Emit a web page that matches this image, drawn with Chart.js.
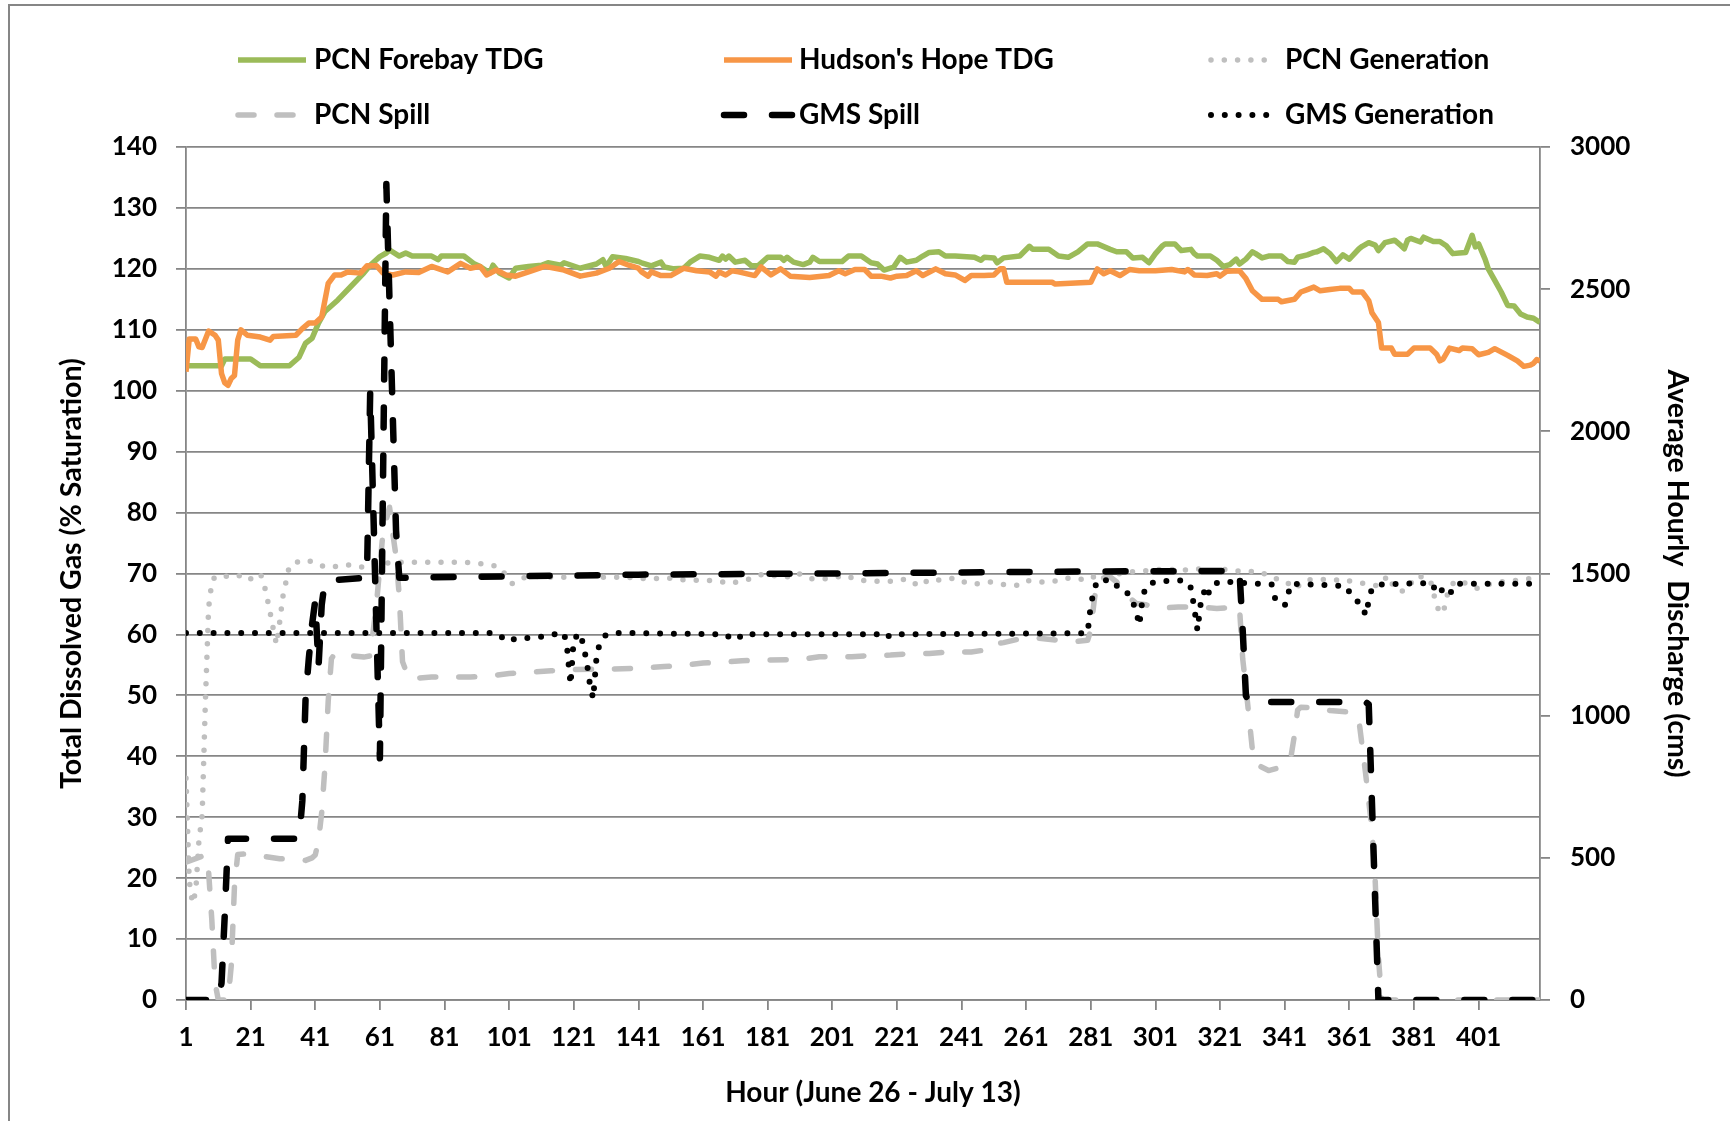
<!DOCTYPE html>
<html>
<head>
<meta charset="utf-8">
<title>TDG and discharge, June 26 - July 13</title>
<script src="https://cdn.jsdelivr.net/npm/chart.js@4.4.1/dist/chart.umd.min.js"></script>
<style>
  html, body { margin: 0; padding: 0; background: #fff; }
  #wrap { position: relative; width: 1730px; height: 1121px; }
</style>
</head>
<body>
<div id="wrap"><canvas id="graph"></canvas></div>
<script>
// x axis labels (hour of record)
const hourTicks = [1, 21, 41, 61, 81, 101, 121, 141, 161, 181, 201, 221, 241, 261, 281, 301, 321, 341, 361, 381, 401];
const xTitle = 'Hour (June 26 - July 13)';

// PCN Forebay TDG (% saturation) at the hours where the line turns
const forebayHours = [1,12,13,21,24,33,36,38,40,42,44,48,52,56,58,61,63,64,67,69,71,77,79,80,87,90,92,95,96,98,101,103,107,111,113,117,118,123,128,130,131,133,137,141,142,145,148,149,152,155,157,160,163,166,167,168,169,171,174,176,178,181,185,186,187,189,192,194,195,197,204,206,210,213,215,217,220,222,224,227,229,231,234,236,239,245,247,248,251,252,254,259,262,263,268,271,274,277,280,283,287,289,292,294,297,299,301,303,304,307,309,312,313,314,318,320,322,324,326,327,329,331,332,334,336,340,342,344,345,348,350,351,353,355,357,359,361,364,365,367,369,370,372,375,377,378,379,380,383,384,387,389,391,393,395,397,399,400,401,403,404,406,408,410,412,414,416,418,420];
const forebayTdg = [104.1,104.1,105.2,105.2,104.1,104.1,105.5,107.8,108.6,111.1,113.0,114.9,117.1,119.3,120.6,122.0,122.6,123.1,122.1,122.6,122.1,122.1,121.5,122.1,122.1,120.9,120.4,119.3,120.6,119.3,118.5,120.1,120.4,120.6,121.0,120.6,121.0,120.1,120.8,121.5,120.4,122.0,121.7,121.2,121.0,120.5,121.1,120.3,120.0,120.1,121.1,122.1,121.9,121.4,122.1,121.6,122.1,121.1,121.4,120.5,120.5,121.9,121.9,121.4,121.9,121.1,120.7,121.1,121.9,121.2,121.2,122.1,122.1,121.0,120.8,119.8,120.3,121.9,121.1,121.4,122.1,122.7,122.8,122.1,122.1,121.9,121.4,121.9,121.8,121.0,121.8,122.1,123.7,123.2,123.2,122.1,121.9,122.8,124.1,124.1,123.2,122.8,122.8,121.8,121.9,121.0,122.5,123.7,124.1,124.1,123.0,123.2,122.5,122.1,122.1,121.4,120.4,120.7,121.6,120.8,121.6,122.8,122.5,121.8,122.1,122.1,121.2,121.1,121.9,122.3,122.7,122.8,123.3,122.5,121.2,122.3,121.6,123.3,123.7,124.3,123.9,123.0,124.3,124.7,123.8,123.3,124.7,125.0,124.4,125.2,124.5,124.5,123.8,122.5,122.6,122.7,125.5,123.6,124.1,121.6,120.0,118.1,116.2,114.0,113.9,112.6,112.1,111.9,111.2];

// Hudson's Hope TDG (% saturation)
const hudsonHours = [1,2,4,5,6,8,10,11,12,13,14,15,16,17,18,20,24,27,28,35,37,39,41,43,45,47,49,51,55,57,60,62,65,69,73,77,82,86,89,92,94,97,100,103,107,112,118,123,128,132,135,138,141,142,144,145,148,151,155,157,159,163,165,166,168,170,172,177,179,182,185,188,194,200,203,205,208,211,213,216,219,221,224,227,229,233,236,239,242,244,248,251,253,254,255,269,270,281,283,285,287,290,293,296,301,306,310,311,313,317,320,321,323,327,329,331,334,339,340,344,346,348,350,352,355,358,361,362,365,367,368,370,371,374,375,379,381,386,388,389,390,392,395,396,399,401,404,406,410,413,415,417,418,419,420];
const hudsonTdg = [103.1,108.5,108.5,107.2,107.1,109.8,109.1,108.3,102.8,101.3,100.9,102.0,102.5,108.3,110.0,109.1,108.8,108.3,108.9,109.1,110.2,111.1,111.1,112.1,117.6,119.0,119.0,119.5,119.3,120.5,120.5,119.3,119.0,119.5,119.4,120.4,119.5,120.9,120.1,120.4,119.0,119.8,119.0,118.8,119.5,120.4,119.8,118.8,119.3,120.1,121.2,120.6,120.1,119.5,118.8,119.5,118.9,118.9,120.1,119.9,119.7,119.5,118.8,119.5,119.0,119.7,119.5,118.9,120.3,119.0,120.0,118.8,118.6,118.9,119.7,119.2,119.9,119.9,118.8,118.8,118.5,118.8,118.9,119.7,118.9,120.0,119.2,119.0,118.1,118.9,118.9,119.0,120.0,120.0,117.8,117.8,117.5,117.8,120.0,119.2,119.7,118.9,119.9,119.7,119.7,119.9,119.5,119.9,119.0,118.9,119.2,118.8,119.6,119.7,118.4,116.4,115.0,115.0,114.6,115.0,116.2,116.6,117.0,116.4,116.6,116.8,116.8,116.2,116.2,114.8,112.8,111.2,107.0,107.0,106.0,106.0,107.0,107.0,106.0,104.9,105.2,107.0,106.6,107.0,106.9,105.9,106.3,106.9,105.8,104.9,104.0,104.2,104.5,105.1,104.9];

// PCN Generation (cms)
const pcnGenHours = [1,2,3,4,5,6,7,8,9,10,14,17,20,24,25,26,27,28,29,30,31,33,37,41,44,47,51,55,60,68,80,90,95,98,102,106,110,114,118,122,126,130,134,138,141,146,150,156,162,166,169,176,179,187,190,194,197,201,205,209,214,218,221,224,228,231,235,239,243,246,250,254,258,261,265,269,272,276,280,283,288,293,296,300,304,309,314,318,322,327,330,334,337,341,344,348,352,356,359,363,367,370,373,375,378,382,386,387,388,390,391,392,394,397,401,405,409,413,417,420];
const pcnGeneration = [780,420,340,380,560,650,1050,1380,1470,1490,1490,1495,1475,1500,1470,1420,1365,1305,1250,1330,1420,1528,1548,1540,1522,1524,1531,1522,1535,1540,1540,1538,1530,1523,1464,1487,1490,1487,1487,1490,1495,1487,1487,1487,1482,1482,1484,1476,1476,1473,1464,1482,1496,1488,1503,1482,1480,1484,1494,1476,1473,1473,1473,1482,1455,1480,1476,1484,1464,1464,1470,1461,1458,1476,1470,1470,1482,1484,1476,1496,1496,1505,1508,1511,1517,1511,1517,1508,1515,1508,1508,1503,1484,1476,1446,1478,1480,1476,1480,1468,1464,1456,1493,1446,1437,1493,1479,1435,1382,1358,1411,1452,1475,1466,1446,1466,1472,1476,1482,1480];

// PCN Spill (cms)
const pcnSpillHours = [1,7,8,9,10,11,14,15,16,17,20,25,30,38,40,41,42,43,44,45,46,47,56,58,60,62,64,65,66,67,68,70,77,89,95,101,114,120,136,142,149,155,161,167,173,180,191,197,207,213,219,225,231,237,244,249,250,254,259,265,271,277,280,281,282,283,287,289,292,295,298,302,308,314,320,327,328,329,331,332,336,341,343,344,345,346,350,355,362,364,366,368,369,370,371,420];
const pcnSpill = [485,510,450,280,60,0,0,120,400,512,514,505,497,491,500,510,560,660,820,1050,1200,1218,1206,1210,1400,1650,1733,1640,1560,1420,1190,1130,1136,1136,1140,1148,1158,1162,1165,1167,1173,1177,1185,1188,1193,1196,1197,1207,1207,1212,1213,1218,1219,1224,1224,1232,1250,1257,1270,1272,1265,1262,1265,1300,1400,1480,1488,1470,1425,1395,1390,1378,1382,1382,1377,1382,1200,1100,880,830,807,822,860,930,1020,1030,1028,1018,1012,980,800,600,420,150,0,0];

// GMS Spill (cms)
const gmsSpillHours = [1,11,12,13,14,36,37,38,39,40,41,42,43,44,57,58,61,63,64,65,66,67,100,141,200,279,327,328,329,330,366,367,370,420];
const gmsSpill = [0,0,60,300,567,567,700,1060,1200,1320,1405,1170,1390,1475,1485,2140,850,2870,2450,2050,1650,1485,1490,1496,1500,1507,1509,1300,1070,1048,1048,1040,0,0];

// GMS Generation (cms)
const gmsGenHours = [1,97,100,101,103,110,114,118,119,120,121,123,124,125,126,127,128,129,131,135,168,170,172,173,217,218,219,280,281,282,283,288,290,293,295,296,297,298,301,310,312,313,314,315,316,317,318,321,337,338,341,342,343,360,362,365,366,367,368,371,386,387,389,390,392,394,420];
const gmsGeneration = [1291,1291,1265,1260,1272,1275,1285,1291,1230,1110,1270,1291,1245,1190,1110,1060,1200,1255,1285,1291,1286,1268,1270,1286,1286,1275,1286,1290,1390,1440,1476,1476,1440,1428,1370,1318,1410,1456,1472,1476,1449,1380,1300,1394,1435,1411,1456,1472,1461,1414,1386,1426,1464,1456,1414,1390,1353,1402,1449,1461,1467,1449,1464,1426,1426,1464,1464];

const FONT = 'Lato, "Liberation Sans", sans-serif';
const GRID = '#868686';

function points(hours, values) {
  return hours.map((h, i) => ({ x: h, y: values[i] }));
}

// legend is a 3 x 2 grid in the figure, so it is drawn here instead of the built-in one
const gridLegend = {
  id: 'gridLegend',
  beforeDraw(chart) {
    const ctx = chart.ctx;
    ctx.save();
    ctx.strokeStyle = GRID;
    ctx.lineWidth = 2;
    ctx.strokeRect(9, 5, 1800, 1200);
    ctx.restore();
  },
  afterDraw(chart) {
    const ctx = chart.ctx;
    const cols = [[238, 306, 314], [724, 792, 799], [1211, 1277, 1285]];
    const rows = [60, 115];
    chart.data.datasets.forEach((ds, i) => {
      const c = cols[i % 3];
      const y = rows[Math.floor(i / 3)];
      ctx.save();
      ctx.strokeStyle = ds.borderColor;
      ctx.lineWidth = ds.borderWidth;
      ctx.lineCap = ds.borderCapStyle || 'butt';
      ctx.setLineDash(ds.borderDash || []);
      ctx.beginPath();
      ctx.moveTo(c[0], y);
      ctx.lineTo(c[1], y);
      ctx.stroke();
      ctx.setLineDash([]);
      ctx.fillStyle = '#000';
      ctx.font = 'bold 28px ' + FONT;
      ctx.textBaseline = 'middle';
      ctx.fillText(ds.label, c[2], y);
      ctx.restore();
    });

    // x axis title, centred where the figure has it
    ctx.save();
    ctx.fillStyle = '#000';
    ctx.font = 'bold 28px ' + FONT;
    ctx.textAlign = 'center';
    ctx.textBaseline = 'middle';
    ctx.fillText(xTitle, 873, 1093);
    ctx.restore();
  }
};

const tickFont = { family: FONT, size: 26, weight: 'bold' };
const titleFont = { family: FONT, size: 28.5, weight: 'bold' };

window.onload = () => {
  const ctx = document.getElementById('graph').getContext('2d');
  new Chart(ctx, {
    type: 'line',
    data: {
      datasets: [
        { label: 'PCN Forebay TDG', data: points(forebayHours, forebayTdg), yAxisID: 'y',
          borderColor: '#9bbb59', borderWidth: 5.5, order: 6 },
        { label: "Hudson's Hope TDG", data: points(hudsonHours, hudsonTdg), yAxisID: 'y',
          borderColor: '#f79646', borderWidth: 5.5, order: 5 },
        { label: 'PCN Generation', data: points(pcnGenHours, pcnGeneration), yAxisID: 'y1',
          borderColor: '#bfbfbf', borderWidth: 5.5, borderDash: [0, 13.3], borderCapStyle: 'round', order: 4 },
        { label: 'PCN Spill', data: points(pcnSpillHours, pcnSpill), yAxisID: 'y1',
          borderColor: '#bfbfbf', borderWidth: 5.5, borderDash: [16, 23], borderCapStyle: 'round', order: 3 },
        { label: 'GMS Spill', data: points(gmsSpillHours, gmsSpill), yAxisID: 'y1',
          borderColor: '#000', borderWidth: 6.5, borderDash: [20, 28], borderCapStyle: 'round', order: 2 },
        { label: 'GMS Generation', data: points(gmsGenHours, gmsGeneration), yAxisID: 'y1',
          borderColor: '#000', borderWidth: 6, borderDash: [0, 13.8], borderCapStyle: 'round', order: 1 }
      ]
    },
    options: {
      responsive: true,
      maintainAspectRatio: false,
      animation: false,
      layout: { padding: { top: 147, left: 0, right: 0, bottom: 0 } },
      elements: {
        point: { radius: 0 },
        line: { tension: 0, borderJoinStyle: 'round', fill: false }
      },
      plugins: {
        legend: { display: false },
        tooltip: { enabled: false }
      },
      scales: {
        x: {
          type: 'linear',
          min: 1,
          max: 420,
          afterBuildTicks: axis => { axis.ticks = hourTicks.map(v => ({ value: v })); },
          afterFit: axis => { axis.height = 121; },
          grid: { drawOnChartArea: false, color: GRID, lineWidth: 1.8, tickLength: 10 },
          border: { display: true, color: GRID, width: 1.8 },
          ticks: { autoSkip: false, maxRotation: 0, padding: 12, color: '#000', font: tickFont,
                   callback: v => String(v) }
        },
        y: {
          position: 'left',
          min: 0,
          max: 140,
          afterFit: axis => { axis.width = 186; },
          grid: { color: GRID, lineWidth: 1.8, tickLength: 10 },
          border: { display: true, color: GRID, width: 1.8 },
          ticks: { stepSize: 10, padding: 19, color: '#000', font: tickFont },
          title: { display: true, text: 'Total Dissolved Gas (% Saturation)', color: '#000',
                   padding: { top: 55, bottom: 0 }, font: titleFont }
        },
        y1: {
          position: 'right',
          min: 0,
          max: 3000,
          afterFit: axis => { axis.width = 190; },
          grid: { drawOnChartArea: false, color: GRID, lineWidth: 1.8, tickLength: 10 },
          border: { display: true, color: GRID, width: 1.8 },
          ticks: { stepSize: 500, padding: 20, color: '#000', font: tickFont,
                   callback: v => String(v) },
          title: { display: true, text: 'Average Hourly  Discharge (cms)', color: '#000',
                   padding: { top: 36, bottom: 0 }, font: titleFont }
        }
      }
    },
    plugins: [gridLegend]
  });
};
</script>
</body>
</html>
